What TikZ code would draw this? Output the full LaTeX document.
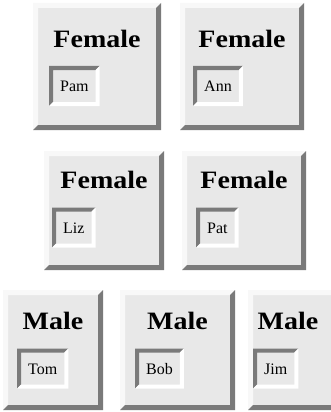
\documentclass[tikz,border=0pt]{standalone}
\usepackage{fontspec}
\setmainfont{Liberation Serif}
\newfontfamily\headfont[FakeStretch=1.12]{Liberation Serif}
\usepackage{tikz}
\usetikzlibrary{positioning}
\definecolor{cellgray}{HTML}{E8E8E8}
\definecolor{edgedark}{HTML}{7A7A7A}
\definecolor{edgelight}{HTML}{F8F8F8}
\begin{document}
\begin{tikzpicture}[x=1pt,y=-1pt,
  bevel/.style n args={3}{path picture={
    \fill[#1] (path picture bounding box.south west) -- (path picture bounding box.north west)
      -- (path picture bounding box.north east) -- ([shift={(-#3,-#3)}]path picture bounding box.north east)
      -- ([shift={(#3,-#3)}]path picture bounding box.north west) -- ([shift={(#3,#3)}]path picture bounding box.south west) -- cycle;
    \fill[#2] (path picture bounding box.south west) -- (path picture bounding box.south east)
      -- (path picture bounding box.north east) -- ([shift={(-#3,-#3)}]path picture bounding box.north east)
      -- ([shift={(-#3,#3)}]path picture bounding box.south east) -- ([shift={(#3,#3)}]path picture bounding box.south west) -- cycle;}},
  cell/.style={fill=cellgray,inner sep=0pt,bevel={edgelight}{edgedark}{5pt}},
  head/.style={anchor=base,inner sep=0pt,font=\headfont\bfseries\fontsize{25}{30}\selectfont},
  namebox/.style={anchor=west,fill=cellgray,inner xsep=11pt,inner ysep=0pt,minimum height=40pt,
    text height=11pt,text depth=0pt,font=\fontsize{16}{19}\selectfont,bevel={edgedark}{white}{4pt}}]
\useasboundingbox (0,0) rectangle (331,412);
% first row
\node[cell,minimum width=128pt,minimum height=127pt] (pamcell) at (97,66.5) {};
\node[cell,minimum width=124pt,minimum height=127pt] (anncell) at (242,66.5) {};
\node[head] (pamsex) at (97,48) {Female};
\node[head] (annsex) at (242,48) {Female};
\node[namebox] (pam) at (49,86) {Pam};
\node[namebox] (ann) at (193,86) {Ann};
% second row
\node[cell,minimum width=120pt,minimum height=119pt] (lizcell) at (104,210.5) {};
\node[cell,minimum width=124pt,minimum height=119pt] (patcell) at (244,210.5) {};
\node[head] (lizsex) at (104,188) {Female};
\node[head] (patsex) at (244,188) {Female};
\node[namebox] (liz) at (52,227.5) {Liz};
\node[namebox] (pat) at (196,227.5) {Pat};
% third row
\node[cell,minimum width=100pt,minimum height=120pt] (tomcell) at (53,350) {};
\node[cell,minimum width=115pt,minimum height=120pt] (bobcell) at (177.5,350) {};
\node[cell,minimum width=89pt,minimum height=120pt] (jimcell) at (292.5,350) {};
\node[head] (tomsex) at (53,329) {Male};
\node[head] (bobsex) at (177.5,329) {Male};
\node[head] (jimsex) at (288,329) {Male};
\node[namebox] (tom) at (17,368.5) {Tom};
\node[namebox] (bob) at (135,368.5) {Bob};
\node[namebox] (jim) at (253,368.5) {Jim};
\end{tikzpicture}
\end{document}
